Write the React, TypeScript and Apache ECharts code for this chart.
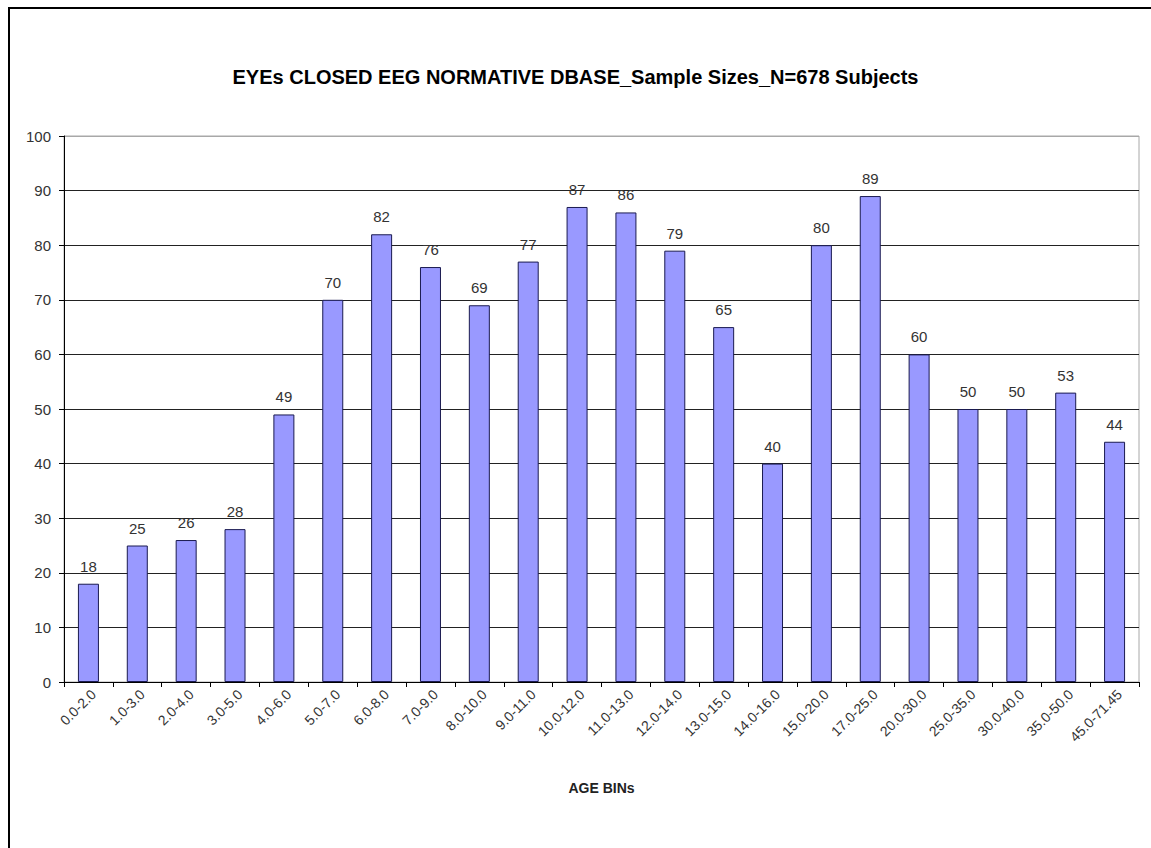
import React, { useEffect, useRef } from "react";
import * as echarts from "echarts";

const categories = [
  "0.0-2.0", "1.0-3.0", "2.0-4.0", "3.0-5.0", "4.0-6.0", "5.0-7.0", "6.0-8.0",
  "7.0-9.0", "8.0-10.0", "9.0-11.0", "10.0-12.0", "11.0-13.0", "12.0-14.0",
  "13.0-15.0", "14.0-16.0", "15.0-20.0", "17.0-25.0", "20.0-30.0", "25.0-35.0",
  "30.0-40.0", "35.0-50.0", "45.0-71.45",
];
const sampleSizes = [18, 25, 26, 28, 49, 70, 82, 76, 69, 77, 87, 86, 79, 65, 40, 80, 89, 60, 50, 50, 53, 44];
const yTicks = { min: 0, max: 100, interval: 10 };

const FONT = "'Liberation Sans', Arial, sans-serif";

export default function App() {
  const ref = useRef<HTMLDivElement>(null);
  useEffect(() => {
    if (!ref.current) return;
    const chart = echarts.init(ref.current, null, { renderer: "svg" });
    const splitColors = [
      "#222", "#222", "#222", "#222", "#222", "#222", "#222", "#222", "#222", "#222", "#a8a8a8",
    ];
    chart.setOption({
      animation: false,
      backgroundColor: "#fff",
      title: {
        text: "EYEs CLOSED EEG NORMATIVE DBASE_Sample Sizes_N=678 Subjects",
        left: "center",
        top: 62,
        textStyle: { fontFamily: FONT, fontSize: 20, fontWeight: "bold", color: "#000" },
      },
      grid: { left: 64, right: 12, top: 136, bottom: 166, show: true, borderColor: "#a8a8a8", borderWidth: 1 },
      xAxis: {
        type: "category",
        data: categories,
        boundaryGap: true,
        name: "AGE BINs",
        nameLocation: "middle",
        nameGap: 99,
        nameTextStyle: { fontFamily: FONT, fontSize: 14, fontWeight: "bold", color: "#222" },
        axisLine: { lineStyle: { color: "#000", width: 1 } },
        axisTick: { show: true, alignWithLabel: false, length: 5, lineStyle: { color: "#000" } },
        axisLabel: {
          rotate: 45,
          interval: 0,
          fontFamily: FONT,
          fontSize: 14,
          color: "#333",
          margin: 5,
          verticalAlign: "top",
        },
        splitLine: { show: false },
      },
      yAxis: {
        type: "value",
        min: yTicks.min,
        max: yTicks.max,
        interval: yTicks.interval,
        axisLine: { show: true, lineStyle: { color: "#000", width: 1 } },
        axisTick: { show: true, length: 5, lineStyle: { color: "#000" } },
        axisLabel: { fontFamily: FONT, fontSize: 15, color: "#333", margin: 13 },
        splitLine: { show: true, lineStyle: { color: splitColors, width: 1 } },
      },
      series: [
        {
          type: "bar",
          data: sampleSizes,
          barWidth: 21,
          itemStyle: { color: "#9999FF", borderColor: "#1a1a50", borderWidth: 1 },
          label: { show: true, position: "top", distance: 10, fontFamily: FONT, fontSize: 15, color: "#333" },
        },
      ],
      graphic: [
        { type: "line", shape: { x1: 8, y1: 8, x2: 1160, y2: 8 }, style: { stroke: "#000", lineWidth: 2 } },
        { type: "line", shape: { x1: 9, y1: 7, x2: 9, y2: 860 }, style: { stroke: "#000", lineWidth: 2 } },
      ],
    });
    return () => chart.dispose();
  }, []);
  return (
    <div
      ref={ref}
      style={{ position: "fixed", left: 0, top: 0, width: 1151, height: 848 }}
    />
  );
}
